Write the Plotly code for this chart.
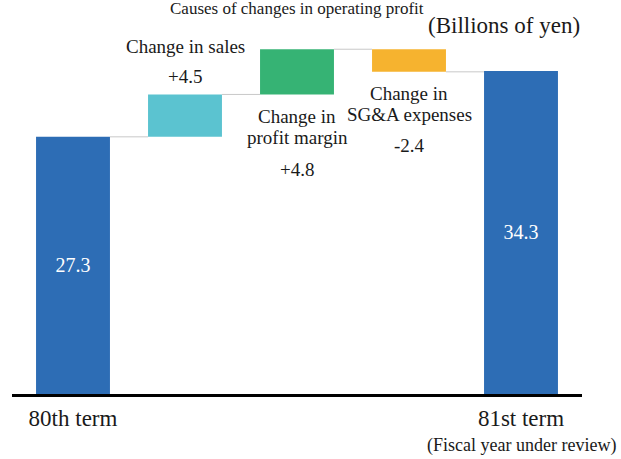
import plotly.graph_objects as go

# ---- data ----
categories = ["80th term", "Change in sales", "Change in<br>profit margin",
              "Change in<br>SG&A expenses", "81st term"]
start_value = 27.3
deltas = [4.5, 4.8, -2.4]
end_value = 34.3
tick_labels = ["80th term", "81st term"]
colors = ["#2D6DB5", "#5BC3D0", "#36B374", "#F6B32F", "#2D6DB5"]
title_text = "Causes of changes in operating profit"
unit_text = "(Billions of yen)"
note_text = "(Fiscal year under review)"

# ---- derived ----
n = len(categories)
xs = list(range(n))
bases = [0.0]
vals = [start_value]
level = start_value
for d in deltas:
    bases.append(level)
    vals.append(d)
    level = round(level + d, 4)
bases.append(0.0)
vals.append(end_value)
tops = [b + v for b, v in zip(bases, vals)]

W, H = 621, 459
ML, MR, MT, MB = 12, 39, 30, 65
plot_h = H - MT - MB
px_per_unit = 9.42
ymax = plot_h / px_per_unit
bar_w = 0.66
FONT = "Liberation Serif"
TXT = "#1a1a1a"


def ypx(p):
    """pixel y (from top) -> paper y"""
    return (H - MB - p) / plot_h


fig = go.Figure()

inside_text = [f"{vals[0]:.1f}"] + [""] * len(deltas) + [f"{vals[-1]:.1f}"]
fig.add_trace(go.Bar(
    x=xs, y=vals, base=bases, width=bar_w,
    marker=dict(color=colors, line=dict(width=0)),
    text=inside_text, textposition="inside", insidetextanchor="middle",
    textangle=0, constraintext="none",
    textfont=dict(family=FONT, size=20, color="white"),
    hoverinfo="skip", showlegend=False,
))

# connectors
cx, cy = [], []
for i in range(n - 1):
    lvl = tops[i]
    cx += [xs[i] + bar_w / 2, xs[i + 1] - bar_w / 2, None]
    cy += [lvl, lvl, None]
fig.add_trace(go.Scatter(x=cx, y=cy, mode="lines",
                         line=dict(color="#C8C8C8", width=1),
                         hoverinfo="skip", showlegend=False))

# delta labels (pixel rows for name lines and value)
label_rows = {1: ([47], 76), 2: ([116, 137], 169), 3: ([93, 115], 145)}
for i, (lines_y, val_y) in label_rows.items():
    parts = categories[i].split("<br>")
    for t, yy in zip(parts, lines_y):
        fig.add_annotation(x=xs[i], xref="x", y=ypx(yy), yref="paper",
                           text=t, showarrow=False, xanchor="center", yanchor="middle",
                           font=dict(family=FONT, size=19, color=TXT))
    d = vals[i]
    fig.add_annotation(x=xs[i], xref="x", y=ypx(val_y), yref="paper",
                       text=f"{d:+.1f}", showarrow=False, xanchor="center", yanchor="middle",
                       font=dict(family=FONT, size=19, color=TXT))

# title (kept fully visible at the top edge)
fig.add_annotation(x=0.5, xref="paper", y=ypx(9), yref="paper", text=title_text,
                   showarrow=False, xanchor="center", yanchor="middle",
                   font=dict(family=FONT, size=17, color=TXT))
fig.add_annotation(x=1.0, xref="paper", y=ypx(25), yref="paper", text=unit_text,
                   showarrow=False, xanchor="right", yanchor="middle",
                   font=dict(family=FONT, size=23, color=TXT))
fig.add_annotation(x=xs[-1], xref="x", y=ypx(445), yref="paper", text=note_text,
                   showarrow=False, xanchor="center", yanchor="middle",
                   font=dict(family=FONT, size=18, color=TXT))

x0 = -(73 - ML) / 112
x1 = x0 + (W - ML - MR) / 112
fig.update_layout(
    width=W, height=H,
    margin=dict(l=ML, r=MR, t=MT, b=MB, pad=0),
    paper_bgcolor="white", plot_bgcolor="white",
    showlegend=False,
    xaxis=dict(range=[x0, x1], tickvals=[xs[0], xs[-1]], ticktext=tick_labels,
               showgrid=False, zeroline=False, showline=True, linecolor="black",
               linewidth=2.5, ticks="", ticklabelstandoff=2,
               tickfont=dict(family=FONT, size=23, color=TXT)),
    yaxis=dict(range=[0, ymax], visible=False, showgrid=False, zeroline=False),
)

fig.write_html("out.html", config={"displayModeBar": False},
               post_script="document.body.style.margin='0';document.body.style.overflow='hidden';")
